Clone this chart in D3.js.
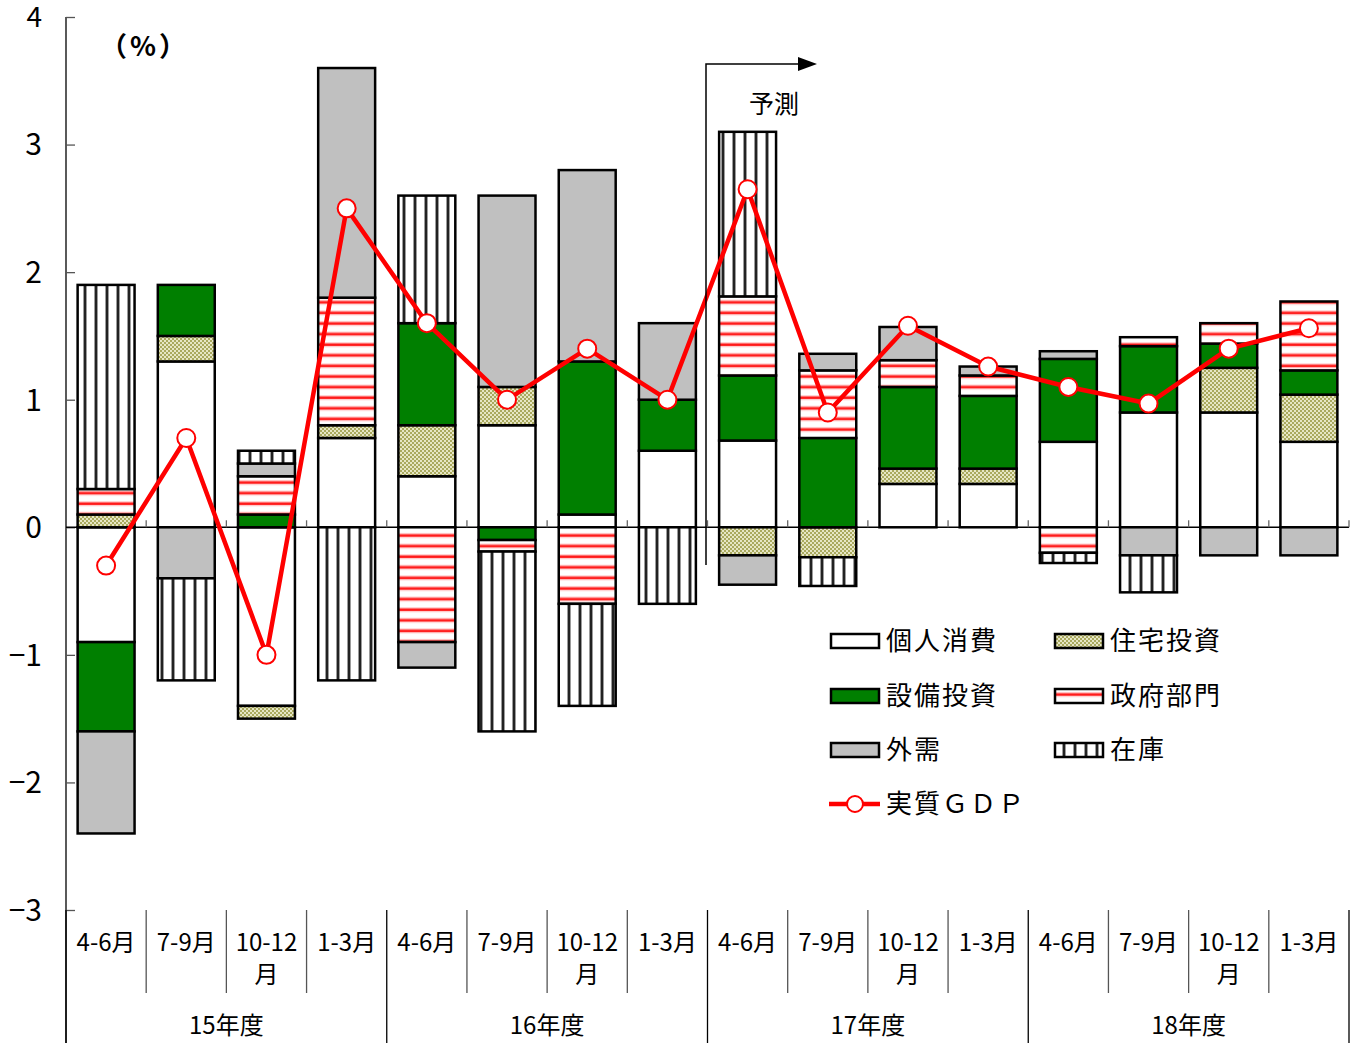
<!DOCTYPE html>
<html><head><meta charset="utf-8">
<script src="https://cdn.jsdelivr.net/npm/d3@7"></script>
<style>
html,body{margin:0;padding:0;background:#fff;}
svg{display:block;}
text{font-family:"Noto Sans CJK JP","Noto Sans",sans-serif;fill:#000;}
</style></head>
<body>
<svg id="chart" width="1359" height="1043"></svg>
<script>
// ---- data ----
const quarters = ["4-6月","7-9月","10-12月","1-3月","4-6月","7-9月","10-12月","1-3月","4-6月","7-9月","10-12月","1-3月","4-6月","7-9月","10-12月","1-3月"];
const fiscalYears = ["15年度","16年度","17年度","18年度"];
const seriesNames = ["個人消費","住宅投資","設備投資","政府部門","外需","在庫"];
const consumption = [-0.9, 1.3, -1.4, 0.7, 0.4, 0.8, 0.1, 0.6, 0.68, 0.0, 0.34, 0.34, 0.67, 0.9, 0.9, 0.67];
const housing     = [0.1, 0.2, -0.1, 0.1, 0.4, 0.3, 0.0, 0.0, -0.22, -0.235, 0.12, 0.12, 0.0, 0.0, 0.35, 0.37];
const capex       = [-0.7, 0.4, 0.1, 0.0, 0.8, -0.1, 1.2, 0.4, 0.51, 0.7, 0.64, 0.57, 0.65, 0.52, 0.19, 0.19];
const government  = [0.2, 0.0, 0.3, 1.0, -0.9, -0.09, -0.6, 0.0, 0.62, 0.53, 0.21, 0.16, -0.2, 0.07, 0.16, 0.54];
const netExports  = [-0.8, -0.4, 0.1, 1.8, -0.2, 1.5, 1.5, 0.6, -0.23, 0.13, 0.26, 0.07, 0.06, -0.22, -0.22, -0.22];
const inventory   = [1.6, -0.8, 0.1, -1.2, 1.0, -1.41, -0.8, -0.6, 1.29, -0.225, 0.0, 0.0, -0.08, -0.29, 0.0, 0.0];
const realGDP     = [-0.3, 0.7, -1.0, 2.5, 1.6, 1.0, 1.4, 1.0, 2.65, 0.9, 1.58, 1.26, 1.10, 0.97, 1.40, 1.56];
const yTicks = [-3,-2,-1,0,1,2,3,4];

// ---- build table ----
const seriesValues = [consumption, housing, capex, government, netExports, inventory];
const table = quarters.map((q,i)=>{
  const row = {idx:i};
  seriesNames.forEach((n,k)=>row[n]=seriesValues[k][i]);
  return row;
});

const svg = d3.select("#chart");
const L = 66, R = 1349, T = 17, B = 910;

const x = d3.scaleBand().domain(d3.range(quarters.length)).range([L,R]).paddingInner(0.29).paddingOuter(0.145);
const y = d3.scaleLinear().domain([-3,4]).range([B,T]);

// ---- patterns ----
const defs = svg.append("defs");
const ph = defs.append("pattern").attr("id","pHousing").attr("patternUnits","userSpaceOnUse").attr("width",4).attr("height",4);
ph.append("rect").attr("width",4).attr("height",4).attr("fill","#a9a95e");
ph.append("rect").attr("x",0).attr("y",0).attr("width",2).attr("height",2).attr("fill","#e6e6c4");
ph.append("rect").attr("x",2).attr("y",2).attr("width",2).attr("height",2).attr("fill","#e6e6c4");
const pg = defs.append("pattern").attr("id","pGov").attr("patternUnits","userSpaceOnUse").attr("width",10).attr("height",10.6);
pg.append("rect").attr("width",10).attr("height",10.6).attr("fill","#fff");
pg.append("rect").attr("y",3).attr("width",10).attr("height",5).attr("fill","#ffc8c8");
pg.append("rect").attr("y",4.3).attr("width",10).attr("height",2.4).attr("fill","#ff1a1a");
const pi = defs.append("pattern").attr("id","pInv").attr("patternUnits","userSpaceOnUse").attr("width",11).attr("height",10).attr("x",2);
pi.append("rect").attr("width",11).attr("height",10).attr("fill","#fff");
pi.append("rect").attr("x",4).attr("width",4).attr("height",10).attr("fill","#bbb");
pi.append("rect").attr("x",4.8).attr("width",2.4).attr("height",10).attr("fill","#222");

const fills = {
  "個人消費":"#ffffff",
  "住宅投資":"url(#pHousing)",
  "設備投資":"#007f00",
  "政府部門":"url(#pGov)",
  "外需":"#c0c0c0",
  "在庫":"url(#pInv)"
};

// ---- y axis ----
svg.append("line").attr("x1",L).attr("x2",L).attr("y1",T).attr("y2",1043).attr("stroke","#000").attr("stroke-width",1.3);
const yAxis = d3.axisRight(y).tickValues(yTicks).tickSize(9).tickFormat("");
const ya = svg.append("g").attr("transform",`translate(${L},0)`).call(yAxis);
ya.select(".domain").remove();
ya.selectAll(".tick line").attr("stroke","#555").attr("stroke-width",1.3);
svg.append("g").selectAll("text").data(yTicks).join("text")
  .attr("x",42).attr("y",d=>y(d)).attr("dy","0.36em").attr("text-anchor","end")
  .attr("font-size",d=>d===4?28:30).attr("font-family","'Liberation Sans Narrow','Noto Sans CJK JP',sans-serif")
  .text(d=>d<0?"−"+Math.abs(d):d);

// zero line with boundary ticks
svg.append("line").attr("x1",L).attr("x2",R).attr("y1",y(0)).attr("y2",y(0)).attr("stroke","#000").attr("stroke-width",1.5);
const bounds = d3.range(quarters.length+1).map(i=>L + i*(R-L)/quarters.length);
svg.append("g").selectAll("line").data(bounds.slice(1)).join("line")
  .attr("x1",d=>d).attr("x2",d=>d).attr("y1",y(0)-7).attr("y2",y(0)).attr("stroke","#666").attr("stroke-width",1.3);

// ---- bars ----
const stack = d3.stack().keys(seriesNames).offset(d3.stackOffsetDiverging);
const stacked = stack(table);
const gBars = svg.append("g");
stacked.forEach(layer=>{
  gBars.append("g").selectAll("rect").data(layer.filter(d=>Math.abs(d[1]-d[0])>1e-9)).join("rect")
    .attr("x",d=>x(d.data.idx))
    .attr("width",x.bandwidth())
    .attr("y",d=>y(Math.max(d[0],d[1])))
    .attr("height",d=>Math.abs(y(d[0])-y(d[1])))
    .attr("fill",fills[layer.key])
    .attr("stroke","#000").attr("stroke-width",2.5);
});

// ---- GDP line ----
const line = d3.line().x((d,i)=>x(i)+x.bandwidth()/2).y(d=>y(d));
svg.append("path").datum(realGDP).attr("d",line).attr("fill","none").attr("stroke","#ff0000").attr("stroke-width",4.5).attr("stroke-linejoin","round");
svg.append("g").selectAll("circle").data(realGDP).join("circle")
  .attr("cx",(d,i)=>x(i)+x.bandwidth()/2).attr("cy",d=>y(d)).attr("r",9)
  .attr("fill","#fff").attr("stroke","#ff0000").attr("stroke-width",2);

// ---- category axis ----
const gCat = svg.append("g");
bounds.forEach((b,i)=>{
  const isYear = i%4===0;
  gCat.append("line").attr("x1",b).attr("x2",b).attr("y1",B).attr("y2",isYear?1043:993)
    .attr("stroke",isYear?"#000":"#555").attr("stroke-width",1.3);
});
quarters.forEach((q,i)=>{
  const cx = x(i)+x.bandwidth()/2;
  const t = gCat.append("text").attr("x",cx).attr("text-anchor","middle").attr("font-size",24);
  if(q==="10-12月"){
    t.append("tspan").attr("x",cx).attr("y",951).text("10-12");
    t.append("tspan").attr("x",cx).attr("y",983).text("月");
  } else {
    t.attr("y",951).text(q);
  }
});
fiscalYears.forEach((fy,k)=>{
  const cx = (bounds[k*4]+bounds[k*4+4])/2;
  gCat.append("text").attr("x",cx).attr("y",1034).attr("text-anchor","middle").attr("font-size",24).text(fy);
});

// ---- annotations ----
svg.append("text").attr("x",100).attr("y",56).attr("font-size",27).attr("font-weight","bold").attr("letter-spacing",3).text("（%）");
svg.append("path").attr("d","M706,565 V64 H800").attr("fill","none").attr("stroke","#000").attr("stroke-width",1.5);
svg.append("path").attr("d","M798,57 L817,64 L798,71 Z").attr("fill","#000");
svg.append("text").attr("x",749).attr("y",113).attr("font-size",25).text("予測");

// ---- legend ----
const legendItems = [
  {name:"個人消費", col:0, row:0},
  {name:"住宅投資", col:1, row:0},
  {name:"設備投資", col:0, row:1},
  {name:"政府部門", col:1, row:1},
  {name:"外需", col:0, row:2},
  {name:"在庫", col:1, row:2}
];
const colX = [831, 1055], rowY = [641, 696, 750, 804];
const gLeg = svg.append("g");
legendItems.forEach(it=>{
  const lx = colX[it.col], ly = rowY[it.row];
  gLeg.append("rect").attr("x",lx).attr("y",ly-7).attr("width",48).attr("height",14)
    .attr("fill",fills[it.name]).attr("stroke","#000").attr("stroke-width",2.5);
  gLeg.append("text").attr("x",lx+55).attr("y",ly).attr("dy","0.36em").attr("font-size",26).attr("letter-spacing",2).text(it.name);
});
gLeg.append("line").attr("x1",829).attr("x2",880).attr("y1",rowY[3]).attr("y2",rowY[3]).attr("stroke","#ff0000").attr("stroke-width",4.5);
gLeg.append("circle").attr("cx",855).attr("cy",rowY[3]).attr("r",8).attr("fill","#fff").attr("stroke","#ff0000").attr("stroke-width",2);
gLeg.append("text").attr("x",886).attr("y",rowY[3]).attr("dy","0.36em").attr("font-size",26).attr("letter-spacing",2).text("実質ＧＤＰ");
</script>
</body></html>
